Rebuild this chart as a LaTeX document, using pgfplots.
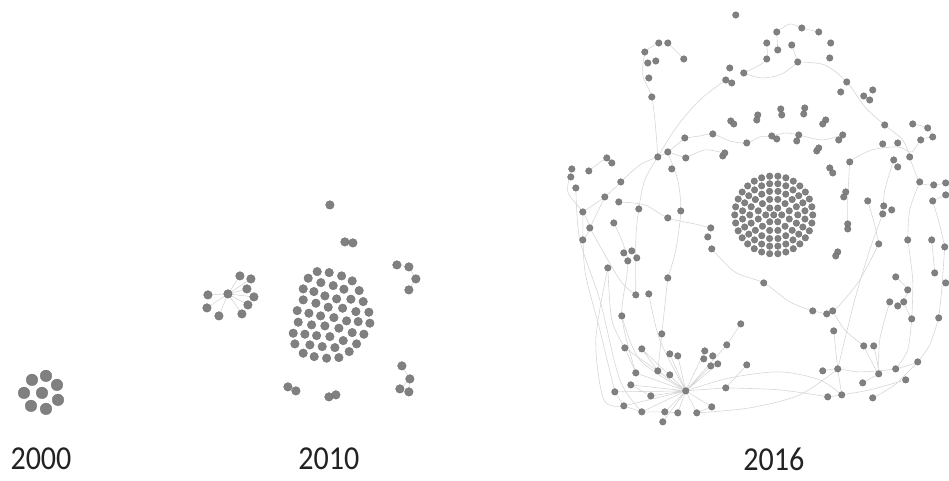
\documentclass[border=0pt]{standalone}
\usepackage{fontspec}
\setmainfont{Carlito}
\usepackage{pgfplots}
\pgfplotsset{compat=1.18}
\definecolor{nodefill}{HTML}{808080}
\definecolor{nodeedge}{HTML}{6C6C6C}
\definecolor{edgecol}{HTML}{D6D6D6}
\definecolor{labcol}{HTML}{222222}
\begin{document}
\begin{tikzpicture}
\begin{axis}[scale only axis, width=949pt, height=481pt,
  xmin=0, xmax=949, ymin=0, ymax=481, y dir=reverse, hide axis, clip=false,
  edge/.style={draw=edgecol, line width=0.6pt, no marks, unbounded coords=jump},
  sedge/.style={draw=edgecol, line width=0.6pt, no marks, smooth},
  nodes/.style={only marks, mark=*, mark options={fill=nodefill, draw=nodeedge, line width=0.3pt}}]
\path (rel axis cs:0,0) rectangle (rel axis cs:1,1);

% ---------- 2010 edges ----------
\addplot[edge] coordinates {(228,294)(240,276) (nan,nan) (228,294)(251,279) (nan,nan) (228,294)(247,289) (nan,nan) (228,294)(254,297) (nan,nan) (228,294)(248,305) (nan,nan) (228,294)(242,314) (nan,nan) (228,294)(208,295) (nan,nan) (228,294)(207,308) (nan,nan) (228,294)(219,316) (nan,nan)
 (397,265)(409,267) (nan,nan) (409,267)(416,279) (nan,nan) (416,279)(409,290) (nan,nan) (402,366)(410,379) (nan,nan) (410,379)(409,392) (nan,nan) (410,379)(400,389)};

% ---------- 2016 edges ----------
\addplot[sedge] coordinates {(659,43)(646,52)(643,75)(652,97)(656,130)(658,157)};
\addplot[sedge] coordinates {(668,43)(684,59)};
\addplot[sedge] coordinates {(658,157)(676,128)(700,100)(726,80)};
\addplot[sedge] coordinates {(744,73)(762,78)(782,74)(798,62)};
\addplot[sedge] coordinates {(798,62)(825,65)(847,82)(866,108)(885,125)(903,140)(910,157)};
\addplot[sedge] coordinates {(744,73)(758,66)(767,59)(767,43)};
\addplot[sedge] coordinates {(777,32)(790,24)(802,28)(819,32)};
\addplot[sedge] coordinates {(777,32)(778,50)};
\addplot[sedge] coordinates {(792,45)(798,62)};
\addplot[sedge] coordinates {(685,138)(700,136)(713,134)(730,141)(747,143)(760,137)(772,136)(786,133)(799,135)(822,140)(843,135)};
\addplot[sedge] coordinates {(850,161)(872,150)(898,147)(912,152)(921,140)(933,137)};
\addplot[sedge] coordinates {(913,124)(928,128)(933,137)};
\addplot[sedge] coordinates {(658,157)(668,152)(685,138)};
\addplot[sedge] coordinates {(668,152)(686,158)};
\addplot[sedge] coordinates {(589,171)(607,158)(612,163)};
\addplot[sedge] coordinates {(621,182)(640,165)(658,157)};
\addplot[sedge] coordinates {(572,169)(568,192)(583,212)(590,228)(583,240)};
\addplot[sedge] coordinates {(583,212)(605,197)(621,182)};
\addplot[sedge] coordinates {(619,202)(645,205)(668,218)(695,224)(711,228)};
\addplot[sedge] coordinates {(712,249)(735,272)(764,283)(790,302)(813,311)};
\addplot[sedge] coordinates {(658,157)(645,180)(639,209)(636,240)(636,295)};
\addplot[sedge] coordinates {(668,153)(678,180)(681,211)(676,250)(668,278)};
\addplot[sedge] coordinates {(724,153)(705,150)(686,158)};
\addplot[sedge] coordinates {(583,212)(585,270)(600,330)(615,392)};
\addplot[sedge] coordinates {(590,228)(620,280)(636,295)};
\addplot[sedge] coordinates {(608,268)(612,320)(625,348)};
\addplot[sedge] coordinates {(622,316)(640,360)(686,391)};
\addplot[sedge] coordinates {(649,294)(660,340)(686,391)};
\addplot[sedge] coordinates {(668,278)(662,334)(658,371)};
\addplot[sedge] coordinates {(608,268)(596,340)(604,400)(624,406)};
\addplot[sedge] coordinates {(576,188)(580,240)(600,300)(620,380)(642,412)};
\addplot[sedge] coordinates {(614,223)(628,261)(622,316)(636,373)};
\addplot[sedge] coordinates {(605,197)(590,228)};
\addplot[edge] coordinates {(686,391)(615,392) (nan,nan) (686,391)(631,385) (nan,nan) (686,391)(636,373) (nan,nan) (686,391)(651,396) (nan,nan) (686,391)(658,371) (nan,nan) (686,391)(670,354) (nan,nan) (686,391)(678,356) (nan,nan) (686,391)(642,412) (nan,nan) (686,391)(665,412) (nan,nan) (686,391)(678,413) (nan,nan) (686,391)(663,422) (nan,nan) (686,391)(624,406) (nan,nan) (686,391)(705,351) (nan,nan) (686,391)(711,366) (nan,nan) (686,391)(718,364) (nan,nan) (686,391)(727,345) (nan,nan) (686,391)(726,388) (nan,nan) (686,391)(712,407) (nan,nan) (686,391)(697,413) (nan,nan) (686,391)(625,348) (nan,nan) (686,391)(642,349) (nan,nan)
 (727,345)(741,324) (nan,nan) (712,407)(697,413) (nan,nan) (726,388)(747,365) (nan,nan) (615,392)(624,406) (nan,nan) (624,406)(642,412) (nan,nan) (642,412)(665,412) (nan,nan) (665,412)(678,413) (nan,nan) (631,385)(651,396) (nan,nan) (625,348)(636,373) (nan,nan) (642,349)(658,371)};
\addplot[sedge] coordinates {(686,391)(730,378)(780,372)(820,380)(842,395)};
\addplot[sedge] coordinates {(697,413)(750,408)(800,395)(838,369)};
\addplot[sedge] coordinates {(726,388)(780,390)(828,397)};
\addplot[sedge] coordinates {(834,331)(836,350)(838,369)(842,395)};
\addplot[sedge] coordinates {(823,371)(838,369)(860,372)(896,369)(918,362)};
\addplot[sedge] coordinates {(828,397)(842,395)(870,390)(906,380)};
\addplot[sedge] coordinates {(873,398)(895,385)(918,362)};
\addplot[sedge] coordinates {(864,346)(879,374)(874,346)};
\addplot[sedge] coordinates {(863,383)(879,374)};
\addplot[sedge] coordinates {(912,319)(908,350)(896,369)};
\addplot[sedge] coordinates {(939,318)(930,345)(918,362)};
\addplot[sedge] coordinates {(945,247)(942,290)(939,318)};
\addplot[sedge] coordinates {(908,240)(913,280)(912,319)};
\addplot[sedge] coordinates {(879,244)(860,280)(840,305)(833,311)};
\addplot[sedge] coordinates {(813,311)(827,314)};
\addplot[sedge] coordinates {(833,311)(845,330)(864,346)};
\addplot[sedge] coordinates {(910,157)(920,182)(934,185)(946,183)};
\addplot[sedge] coordinates {(933,201)(946,195)};
\addplot[sedge] coordinates {(920,182)(910,210)(908,240)};
\addplot[sedge] coordinates {(933,201)(940,225)(945,247)};
\addplot[sedge] coordinates {(896,277)(908,290)(904,302)(912,319)};
\addplot[sedge] coordinates {(894,160)(885,190)(884,206)};
\addplot[sedge] coordinates {(868,201)(875,225)(879,244)};
\addplot[sedge] coordinates {(850,161)(848,200)(848,224)};
\addplot[sedge] coordinates {(883,214)(870,250)(855,300)(838,369)};
\addplot[sedge] coordinates {(890,302)(880,340)(879,374)};
\addplot[sedge] coordinates {(932,240)(935,273)};

% ---------- 2000 nodes ----------
\addplot[nodes, mark size=5.8pt] coordinates {(32,380)(46,376)(57,385)(24,393)(42,393)(58,400)(31,406)(46,409)};

% ---------- 2010 nodes ----------
\addplot[nodes, mark size=4.3pt] coordinates {
(330,205)(345,242)(353,243)
(397,265)(409,267)(416,279)(409,290)
(240,276)(251,279)(247,289)(254,297)(228,294)(208,295)(207,308)(219,316)(248,305)(242,314)
(288,387)(296,391)(329,397)(336,395)
(402,366)(410,379)(400,389)(409,392)
(317.3,271.7)(329.3,272.7)(341.7,276)(352.3,281)
(308.3,278.3)(321,282.7)(333.3,285.7)(344,289.3)(359.3,290.7)
(303.3,289)(314,291.7)(325,296)(336.7,299)(351,299.3)(363.3,301.7)
(303.3,300)(316,303.3)(328.3,307.3)(342.7,308.3)(356,311.7)(369,312.3)
(297.3,310.7)(309,313.3)(320.7,316)(334,317.7)(346.7,321)(358.3,321.7)(370,323.3)
(298.3,322.3)(311.7,325)(325,326)(339,328.3)(352.3,332.7)(364,334.3)
(293.3,333.3)(305,334.3)(316.7,335.7)(330,336.7)(343.3,340.7)(356.7,344)
(295,344)(310,345)(322.3,346.7)(335,347.7)(349.3,351.7)
(303.3,353.3)(314.3,356.7)(326.7,358.3)(339,357.7)};

% ---------- 2016 central cluster (concentric rings) ----------
\addplot[nodes, mark size=3.3pt] coordinates {
(774,215)
(782,215)(778,221.9)(770,221.9)(766,215)(770,208.1)(778,208.1)
(789.5,219.1)(785.3,226.3)(778.1,230.5)(769.9,230.5)(762.7,226.3)(758.5,219.1)(758.5,210.9)(762.7,203.7)(769.9,199.5)(778.1,199.5)(785.3,203.7)(789.5,210.9)
(798,215)(796.6,223.2)(792.4,230.4)(786,235.8)(778.2,238.6)(769.8,238.6)(762,235.8)(755.6,230.4)(751.4,223.2)(750,215)(751.4,206.8)(755.6,199.6)(762,194.2)(769.8,191.4)(778.2,191.4)(786,194.2)(792.4,199.6)(796.6,206.8)
(805.2,219.1)(803.1,227.1)(799,234.2)(793.2,240)(786.1,244.1)(778.1,246.2)
(742.8,219.1)(744.9,227.1)(749,234.2)(754.8,240)(761.9,244.1)(769.9,246.2)
(742.8,210.9)(744.9,202.9)(749,195.8)(754.8,190)(761.9,185.9)(769.9,183.8)
(805.2,210.9)(803.1,202.9)(799,195.8)(793.2,190)(786.1,185.9)(778.1,183.8)
(813,215)(812.1,223.1)(809.6,230.9)(805.6,237.9)(800.1,244)(793.5,248.8)(786.1,252.1)(778.1,253.8)
(769.9,253.8)(761.9,252.1)(754.5,248.8)(747.9,244)(742.4,237.9)(738.4,230.9)(735.9,223.1)(735,215)
(735.9,206.9)(738.4,199.1)(742.4,192.1)(747.9,186)(754.5,181.2)(761.9,177.9)(769.9,176.2)
(778.1,176.2)(786.1,177.9)(793.5,181.2)(800.1,186)(805.6,192.1)(809.6,199.1)(812.1,206.9)};

% ---------- 2016 other nodes ----------
\addplot[nodes, mark size=3.3pt] coordinates {
(736,15)
(777,32)(802,28)(819,32)(831,43)(830,58)
(767,43)(778,50)(792,45)(767,59)(798,62)
(730,68)(744,73)(726,80)(732,83)
(659,43)(668,43)(645,52)(648,63)(656,61)(684,59)(649,78)(652,97)
(847,82)(841,92)(864,96)(873,90)(870,100)
(731,121)(734,124)(758,115)(757,120)(781,109)(782,115)(805,108)(804,114)(826,120)(823,124)
(885,125)(913,124)(928,128)(933,137)(921,140)
(713,134)(685,138)(747,143)(772,136)(777,139)(799,135)(797,141)(843,135)(839,140)
(817,151)(819,148)(883,144)(898,143)(910,157)(894,160)(898,167)
(668,152)(658,157)(686,158)(672,169)(607,158)(612,163)(723,156)(725,153)(850,162)
(572,169)(571,177)(576,188)(589,171)(621,182)(605,197)(619,202)
(583,212)(590,228)(583,240)(639,209)(668,218)(681,211)(614,223)
(711,228)(708,237)(712,249)
(624,253)(632,251)(628,261)(637,258)(608,268)(668,278)(636,295)(649,294)(764,283)
(830,168)(833,173)(846,192)(844,197)(868,201)(848,224)(848,229)(838,252)(836,256)(879,244)
(884,206)(892,210)(883,214)(920,182)(934,185)(946,183)(933,201)(946,195)
(908,240)(932,240)(945,247)(935,273)(896,277)(908,290)(946,283)
(622,316)(662,334)(625,348)(642,349)(670,354)(678,356)(658,371)(636,373)(670,375)
(631,385)(615,392)(651,396)(686,391)(624,406)(642,412)(665,412)(678,413)(663,422)
(741,324)(727,345)(705,351)(713,356)(704,359)(711,366)(718,364)(747,365)(726,388)(712,407)(697,413)
(813,311)(827,314)(833,311)(834,331)(864,346)(874,346)
(890,302)(898,306)(904,302)(912,319)(939,318)
(918,362)(896,369)(879,374)(906,380)(823,371)(838,369)(863,383)(828,397)(842,395)(873,398)};

% ---------- labels ----------
\node[font=\fontsize{31}{36}\selectfont, text=labcol] at (axis cs:41,459) {\scalebox{0.97}[1.08]{2000}};
\node[font=\fontsize{31}{36}\selectfont, text=labcol] at (axis cs:329,459) {\scalebox{0.97}[1.08]{2010}};
\node[font=\fontsize{31}{36}\selectfont, text=labcol] at (axis cs:774,459) {\scalebox{0.97}[1.08]{2016}};
\end{axis}
\end{tikzpicture}
\end{document}
